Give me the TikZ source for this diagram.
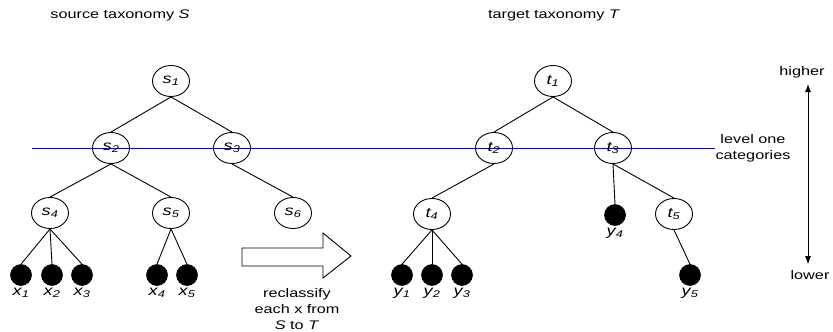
\documentclass[tikz,border=0pt]{standalone}
\usepackage{fontspec}
\setmainfont{Liberation Sans}[FakeStretch=1.3]
\usetikzlibrary{shapes.geometric,arrows.meta}
\begin{document}
\begin{tikzpicture}[x=1pt,y=-1pt,
  txt/.style={font=\fontsize{12.5}{16}\selectfont, inner sep=0pt},
  cat/.style={draw, ellipse, line width=0.9pt, minimum width=37pt, minimum height=31pt, inner sep=0pt, font=\fontsize{14}{16}\selectfont},
  leaf/.style={draw, circle, fill=black, line width=0.6pt, minimum size=21pt, inner sep=0pt,
     label={[font=\fontsize{14}{16}\selectfont, inner sep=0pt, yshift=-2pt]below:#1}},
  edge/.style={line width=0.9pt},
]
\useasboundingbox (0,0) rectangle (833,332);

% titles
\node[txt] (titleS) at (120,15) {source taxonomy \textit{S}};
\node[txt] (titleT) at (554,15) {target taxonomy \textit{T}};

% level-one line
\coordinate (bl) at (32,148);
\coordinate (br) at (715,148);
\draw[blue, line width=1pt] (bl) -- (br);
\node[txt, align=center] (lvl) at (753,148) {level one\\categories};

% source taxonomy
\node[cat] (s1) at (171,81) {\textit{s\textsubscript{1}}};
\node[cat] (s2) at (111,148) {\textit{s\textsubscript{2}}};
\node[cat] (s3) at (232,148) {\textit{s\textsubscript{3}}};
\node[cat] (s4) at (50,213) {\textit{s\textsubscript{4}}};
\node[cat] (s5) at (171,213) {\textit{s\textsubscript{5}}};
\node[cat] (s6) at (293,213) {\textit{s\textsubscript{6}}};
\node[leaf={\textit{x\textsubscript{1}}}] (x1) at (21,275) {};
\node[leaf={\textit{x\textsubscript{2}}}] (x2) at (52,275) {};
\node[leaf={\textit{x\textsubscript{3}}}] (x3) at (82,275) {};
\node[leaf={\textit{x\textsubscript{4}}}] (x4) at (157,275) {};
\node[leaf={\textit{x\textsubscript{5}}}] (x5) at (187,275) {};

\draw[edge] (s1.south) -- (s2.north);
\draw[edge] (s1.south) -- (s3.north);
\draw[edge] (s2.south) -- (s4.north);
\draw[edge] (s2.south) -- (s5.north);
\draw[edge] (s3.south) -- (s6.north);
\draw[edge] (s4.south) -- (x1.north);
\draw[edge] (s4.south) -- (x2.north);
\draw[edge] (s4.south) -- (x3.north);
\draw[edge] (s5.south) -- (x4.north);
\draw[edge] (s5.south) -- (x5.north);

% reclassify arrow
\draw[line width=0.9pt] (242,248) -- (323,248) -- (323,233) -- (351,256) -- (323,278) -- (323,266) -- (242,266) -- cycle;
\node[txt, align=center] (recl) at (297,309) {reclassify\\each x from\\\textit{S} to \textit{T}};

% target taxonomy
\node[cat] (t1) at (553,81) {\textit{t\textsubscript{1}}};
\node[cat] (t2) at (494,148) {\textit{t\textsubscript{2}}};
\node[cat] (t3) at (613,148) {\textit{t\textsubscript{3}}};
\node[cat] (t4) at (432,214) {\textit{t\textsubscript{4}}};
\node[cat] (t5) at (674,214) {\textit{t\textsubscript{5}}};
\node[leaf={\textit{y\textsubscript{4}}}] (y4) at (615,215) {};
\node[leaf={\textit{y\textsubscript{1}}}] (y1) at (402,275) {};
\node[leaf={\textit{y\textsubscript{2}}}] (y2) at (432,275) {};
\node[leaf={\textit{y\textsubscript{3}}}] (y3) at (462,275) {};
\node[leaf={\textit{y\textsubscript{5}}}] (y5) at (690,275) {};

\draw[edge] (t1.south) -- (t2.north);
\draw[edge] (t1.south) -- (t3.north);
\draw[edge] (t2.south) -- (t4.north);
\draw[edge] (t3.south) -- (y4.north);
\draw[edge] (t3.south) -- (t5.north);
\draw[edge] (t4.south) -- (y1.north);
\draw[edge] (t4.south) -- (y2.north);
\draw[edge] (t4.south) -- (y3.north);
\draw[edge] (t5.south) -- (y5.north);

% higher / lower
\node[txt] (hi) at (802,72) {higher};
\node[txt] (lo) at (810,275) {lower};
\draw[line width=0.9pt, {Latex[length=8pt,width=6pt]}-{Latex[length=8pt,width=6pt]}] ([xshift=6pt,yshift=-6pt]hi.south) -- ([xshift=-2pt,yshift=6pt]lo.north);
\end{tikzpicture}
\end{document}
